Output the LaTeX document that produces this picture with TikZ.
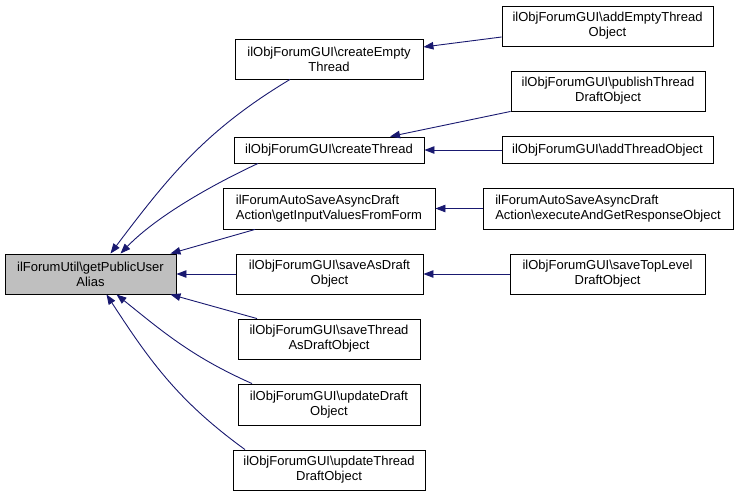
\documentclass[tikz,border=0pt]{standalone}
\usepackage{fontspec}
\setmainfont{Liberation Sans}
\usetikzlibrary{arrows.meta}
\definecolor{edgeblue}{HTML}{191970}
\definecolor{rootgray}{HTML}{BFBFBF}
\newcommand{\bs}{\textbackslash}

\begin{document}
\begin{tikzpicture}[x=1pt, y=-1pt,
    fn/.style = {draw=black, line width=0.9pt, fill=white, inner sep=0pt,
                 align=center, font=\fontsize{13}{15}\selectfont},
    call/.style = {edgeblue, line width=0.9pt, -{Triangle[length=10pt,width=7.5pt]}}]
    \useasboundingbox (0,0) rectangle (739,496);

    % functions
    \node [fn, fill=rootgray, minimum width=171, minimum height=40] (root) at (90.5,274) {ilForumUtil\bs getPublicUser\\Alias};

    \node [fn, minimum width=188, minimum height=40] (cET) at (329,59) {ilObjForumGUI\bs createEmpty\\Thread};
    \node [fn, minimum width=190, minimum height=26] (cT) at (329,150) {ilObjForumGUI\bs createThread};
    \node [fn, align=left, minimum width=212, minimum height=41] (gIV) at (329,208.5) {ilForumAutoSaveAsyncDraft\\Action\bs getInputValuesFromForm};
    \node [fn, minimum width=187, minimum height=40] (sAD) at (329.5,274) {ilObjForumGUI\bs saveAsDraft\\Object};
    \node [fn, minimum width=182, minimum height=40] (sTAD) at (329,339) {ilObjForumGUI\bs saveThread\\AsDraftObject};
    \node [fn, minimum width=182, minimum height=41] (uD) at (329,404.5) {ilObjForumGUI\bs updateDraft\\Object};
    \node [fn, minimum width=192, minimum height=40] (uTD) at (329,470) {ilObjForumGUI\bs updateThread\\DraftObject};

    \node [fn, minimum width=211, minimum height=40] (aET) at (607.5,26) {ilObjForumGUI\bs addEmptyThread\\Object};
    \node [fn, minimum width=194, minimum height=40] (pTD) at (608,91) {ilObjForumGUI\bs publishThread\\DraftObject};
    \node [fn, minimum width=211, minimum height=27] (aT) at (607.5,150) {ilObjForumGUI\bs addThreadObject};
    \node [fn, align=left, minimum width=250, minimum height=41] (eAG) at (608,208.5) {ilForumAutoSaveAsyncDraft\\Action\bs executeAndGetResponseObject};
    \node [fn, minimum width=195, minimum height=40] (sTL) at (607.5,274) {ilObjForumGUI\bs saveTopLevel\\DraftObject};

    % calls into the root
    \draw [call] ([xshift=-39pt]cET.south) to [out=211, in=53] ([xshift=20pt]root.north);
    \draw [call] ([xshift=-71pt]cT.south) to [out=205, in=46, looseness=0.8] ([xshift=30pt]root.north);
    \draw [call] ([xshift=-74pt]gIV.south) -- ([xshift=-6pt]root.north east);
    \draw [call] (sAD.west) -- (root.east);
    \draw [call] ([xshift=-72pt]sTAD.north) -- ([xshift=-6pt]root.south east);
    \draw [call] ([xshift=-77pt]uD.north) to [out=156, in=321] ([xshift=26pt]root.south);
    \draw [call] ([xshift=-84pt]uTD.north) to [out=144, in=303] ([xshift=16pt]root.south);

    % calls into the second column
    \draw [call] ([yshift=-11pt]aET.west) -- ([yshift=12pt]cET.east);
    \draw [call] (pTD.south west) -- ([xshift=61pt]cT.north);
    \draw [call] (aT.west) -- (cT.east);
    \draw [call] (eAG.west) -- (gIV.east);
    \draw [call] (sTL.west) -- (sAD.east);
\end{tikzpicture}
\end{document}
